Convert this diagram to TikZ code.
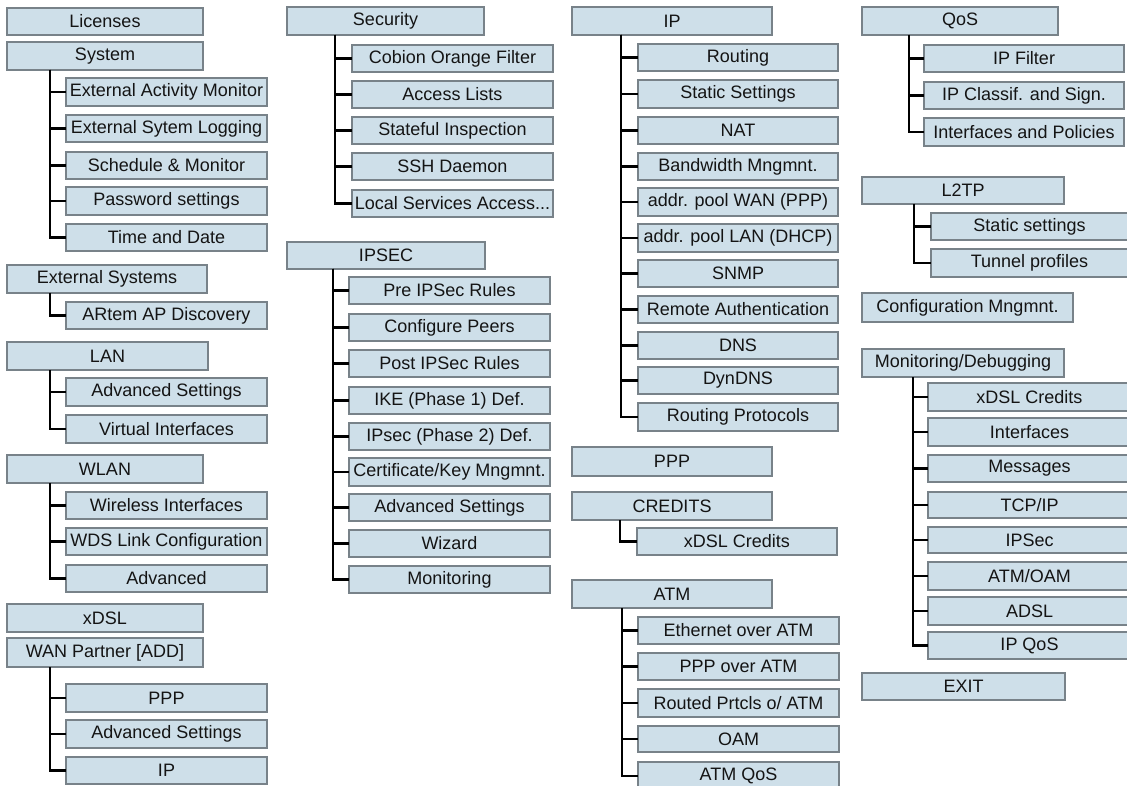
\documentclass[tikz,border=0pt]{standalone}
\usepackage{fontspec}
\setmainfont{Liberation Sans}
\definecolor{boxfill}{RGB}{206,223,233}
\definecolor{boxline}{RGB}{120,130,137}
\tikzset{
  bxs/.style={draw=boxline, fill=boxfill, line width=1.4pt, inner sep=0pt, outer sep=0pt,
    font=\fontsize{18}{20}\selectfont, text=black!92},
  conn/.style={draw=black, line width=2.2pt}
}
\newcommand\mybox[6]{\node[bxs, minimum width={#4-#2}, minimum height={#5-#3}] (#1) at ({(#2+#4)/2},{(#3+#5)/2}) {#6};}
\newcommand\mytrunk[2]{\coordinate (#1T) at ([xshift=#2pt]#1.south west);}
\begin{document}
\begin{tikzpicture}[x=1pt,y=-1pt]
\useasboundingbox (0,0) rectangle (1127,786);
\clip (0,0) rectangle (1127,786);
\fill[white] (0,0) rectangle (1127,786);
% ---------- column 1
\mybox{lic}{7}{8}{203}{35}{Licenses}
\mybox{sys}{7}{42}{203}{70}{System}
\mybox{sysa}{66}{78}{267}{106}{External Activity Monitor}
\mybox{sysb}{66}{115}{267}{142}{External Sytem Logging}
\mybox{sysc}{66}{152}{267}{179}{Schedule \& Monitor}
\mybox{sysd}{66}{187}{267}{215}{Password settings}
\mybox{syse}{66}{224}{267}{251}{Time and Date}
\mybox{ext}{7}{265}{207}{293}{External Systems}
\mybox{exta}{66}{302}{267}{329}{ARtem AP Discovery}
\mybox{lan}{7}{342}{208}{370}{LAN}
\mybox{lana}{66}{378}{267}{406}{Advanced Settings}
\mybox{lanb}{66}{415}{267}{443}{Virtual Interfaces}
\mybox{wlan}{7}{455}{203}{483}{WLAN}
\mybox{wlana}{66}{492}{267}{519}{Wireless Interfaces}
\mybox{wlanb}{66}{528}{267}{555}{WDS Link Configuration}
\mybox{wlanc}{66}{565}{267}{592}{Advanced}
\mybox{xdsl}{7}{604}{203}{632}{xDSL}
\mybox{wan}{7}{638}{203}{667}{WAN Partner [ADD]}
\mybox{wana}{66}{684}{267}{712}{PPP}
\mybox{wanb}{66}{720}{267}{748}{Advanced Settings}
\mybox{wanc}{66}{757}{267}{784}{IP}
% ---------- column 2
\mybox{sec}{287}{7}{484}{35}{Security}
\mybox{seca}{352}{45}{553}{72}{Cobion Orange Filter}
\mybox{secb}{352}{81}{553}{108}{Access Lists}
\mybox{secc}{352}{117}{553}{144}{Stateful Inspection}
\mybox{secd}{352}{153}{553}{180}{SSH Daemon}
\mybox{sece}{352}{190}{553}{217}{Local Services Access...}
\mybox{ips}{287}{242}{485}{269}{IPSEC}
\mybox{ipsa}{349}{277}{550}{304}{Pre IPSec Rules}
\mybox{ipsb}{349}{314}{550}{341}{Configure Peers}
\mybox{ipsc}{349}{350}{550}{377}{Post IPSec Rules}
\mybox{ipsd}{349}{387}{550}{414}{IKE (Phase 1) Def.}
\mybox{ipse}{349}{423}{550}{450}{IPsec (Phase 2) Def.}
\mybox{ipsf}{349}{458}{550}{486}{Certificate/Key Mngmnt.}
\mybox{ipsg}{349}{494}{550}{521}{Advanced Settings}
\mybox{ipsh}{349}{530}{550}{557}{Wizard}
\mybox{ipsi}{349}{566}{550}{593}{Monitoring}
% ---------- column 3
\mybox{ip}{572}{7}{772}{35}{IP}
\mybox{ipa}{638}{44}{838}{71}{Routing}
\mybox{ipb}{638}{80}{838}{108}{Static Settings}
\mybox{ipc}{638}{117}{838}{144}{NAT}
\mybox{ipd}{638}{153}{838}{180}{Bandwidth Mngmnt.}
\mybox{ipe}{638}{188}{838}{216}{addr. pool WAN (PPP)}
\mybox{ipf}{638}{224}{838}{252}{addr. pool LAN (DHCP)}
\mybox{ipg}{638}{260}{838}{287}{SNMP}
\mybox{iph}{638}{296}{838}{323}{Remote Authentication}
\mybox{ipi}{638}{332}{838}{359}{DNS}
\mybox{ipj}{638}{367}{838}{394}{DynDNS}
\mybox{ipk}{638}{403}{838}{431}{Routing Protocols}
\mybox{ppp}{572}{447}{772}{476}{PPP}
\mybox{cred}{572}{492}{772}{520}{CREDITS}
\mybox{creda}{637}{528}{837}{555}{xDSL Credits}
\mybox{atm}{572}{580}{772}{608}{ATM}
\mybox{atma}{638}{617}{839}{644}{Ethernet over ATM}
\mybox{atmb}{638}{653}{839}{680}{PPP over ATM}
\mybox{atmc}{638}{689}{839}{717}{Routed Prtcls o/ ATM}
\mybox{atmd}{638}{726}{839}{752}{OAM}
\mybox{atme}{638}{762}{839}{790}{ATM QoS}
% ---------- column 4
\mybox{qos}{862}{7}{1058}{35}{QoS}
\mybox{qosa}{924}{45}{1124}{72}{IP Filter}
\mybox{qosb}{924}{82}{1124}{109}{IP Classif. and Sign.}
\mybox{qosc}{924}{118}{1124}{146}{Interfaces and Policies}
\mybox{ltp}{862}{177}{1064}{204}{L2TP}
\mybox{ltpa}{931}{213}{1128}{240}{Static settings}
\mybox{ltpb}{931}{249}{1128}{277}{Tunnel profiles}
\mybox{cfg}{862}{293}{1073}{322}{Configuration Mngmnt.}
\mybox{mon}{862}{349}{1064}{377}{Monitoring/Debugging}
\mybox{mona}{928}{383}{1131}{411}{xDSL Credits}
\mybox{monb}{928}{418}{1131}{446}{Interfaces}
\mybox{monc}{928}{455}{1131}{482}{Messages}
\mybox{mond}{928}{492}{1131}{518}{TCP/IP}
\mybox{mone}{928}{527}{1131}{553}{IPSec}
\mybox{monf}{928}{562}{1131}{590}{ATM/OAM}
\mybox{mong}{928}{597}{1131}{625}{ADSL}
\mybox{monh}{928}{632}{1131}{659}{IP QoS}
\mybox{exit}{862}{673}{1065}{700}{EXIT}
% ---------- trunks
\mytrunk{sys}{43}
\mytrunk{ext}{43}
\mytrunk{lan}{43}
\mytrunk{wlan}{43}
\mytrunk{wan}{43}
\mytrunk{sec}{48}
\mytrunk{ips}{46}
\mytrunk{ip}{49}
\mytrunk{cred}{48}
\mytrunk{atm}{50}
\mytrunk{qos}{47}
\mytrunk{ltp}{52}
\mytrunk{mon}{51}
% ---------- connectors
\foreach \p/\cs in {sys/{sysa,sysb,sysc,sysd,syse}, ext/{exta}, lan/{lana,lanb},
  wlan/{wlana,wlanb,wlanc}, wan/{wana,wanb,wanc},
  sec/{seca,secb,secc,secd,sece}, ips/{ipsa,ipsb,ipsc,ipsd,ipse,ipsf,ipsg,ipsh,ipsi},
  ip/{ipa,ipb,ipc,ipd,ipe,ipf,ipg,iph,ipi,ipj,ipk}, cred/{creda}, atm/{atma,atmb,atmc,atmd,atme},
  qos/{qosa,qosb,qosc}, ltp/{ltpa,ltpb}, mon/{mona,monb,monc,mond,mone,monf,mong,monh}}
  {\foreach \c in \cs {\draw[conn] (\p T) |- (\c.west);}}
\end{tikzpicture}
\end{document}
